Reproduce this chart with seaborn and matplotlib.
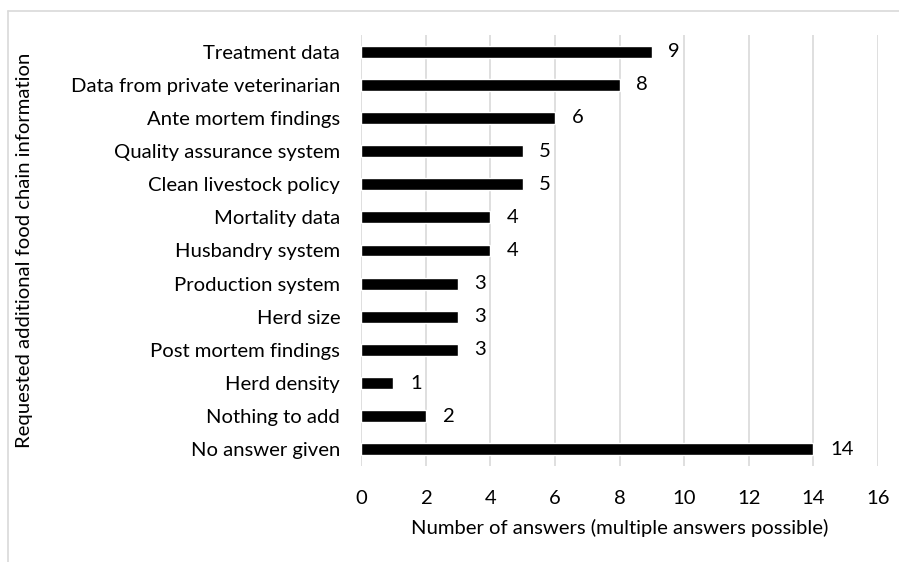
import matplotlib
matplotlib.use("Agg")
import matplotlib.pyplot as plt
import seaborn as sns
import pandas as pd
from matplotlib.lines import Line2D

categories = [
    "Treatment data",
    "Data from private veterinarian",
    "Ante mortem findings",
    "Quality assurance system",
    "Clean livestock policy",
    "Mortality data",
    "Husbandry system",
    "Production system",
    "Herd size",
    "Post mortem findings",
    "Herd density",
    "Nothing to add",
    "No answer given",
]
counts = [9, 8, 6, 5, 5, 4, 4, 3, 3, 3, 1, 2, 14]
x_ticks = [0, 2, 4, 6, 8, 10, 12, 14, 16]

df = pd.DataFrame({"info": categories, "answers": counts})

sns.set_theme(style="white")
plt.rcParams["font.family"] = ["Lato", "DejaVu Sans"]

FS = 14.6

fig = plt.figure(figsize=(8.99, 5.62), dpi=100)
ax = fig.add_axes([361 / 899, 1 - 466 / 562, (878 - 361) / 899, (466 - 35) / 562])

sns.barplot(data=df, x="answers", y="info", order=categories, color="black",
            width=0.36, saturation=1, ax=ax, zorder=3)

ax.set_xlim(0, 16)
ax.set_xticks(x_ticks)
ax.set_xticklabels([str(t) for t in x_ticks])
ax.grid(axis="x", color="#d9d9d9", linewidth=1.2, zorder=0)
ax.grid(axis="y", visible=False)
for s in ax.spines.values():
    s.set_visible(False)
ax.tick_params(axis="both", length=0, labelsize=FS, colors="black")
ax.tick_params(axis="x", pad=17)
ax.tick_params(axis="y", pad=15)

ax.bar_label(ax.containers[0], labels=[str(v) for v in counts],
             padding=12, fontsize=FS, color="black")

ax.set_xlabel("Number of answers (multiple answers possible)", fontsize=FS,
              labelpad=9, color="black")
ax.set_ylabel("Requested additional food chain information", fontsize=FS,
              color="black")
ax.yaxis.set_label_coords(-(361 - 33) / 517, 0.5)

# chart area frame
fig.add_artist(Line2D([8 / 899, 1], [1 - 11 / 562, 1 - 11 / 562],
                      transform=fig.transFigure, color="#d9d9d9", linewidth=1.2))
fig.add_artist(Line2D([8 / 899, 8 / 899], [0, 1 - 11 / 562],
                      transform=fig.transFigure, color="#d9d9d9", linewidth=1.2))

fig.savefig("out.png", dpi=100)
